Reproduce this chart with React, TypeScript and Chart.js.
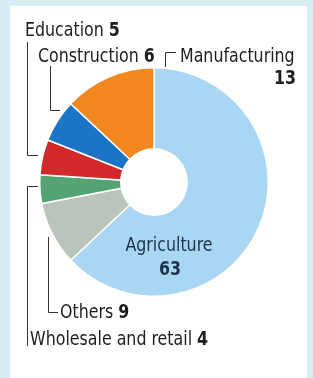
import React, { useEffect, useRef } from "react";
import { Chart, registerables } from "chart.js";

Chart.register(...registerables);

const categories = ["Agriculture", "Others", "Wholesale and retail", "Education", "Construction", "Manufacturing"];
const values = [63, 9, 4, 5, 6, 13];
const colors = ["#a8d6f3", "#b9c4ba", "#55a272", "#d3292b", "#1b74c6", "#f2861f"];

const FONT = '"Liberation Sans Narrow", "DejaVu Sans Condensed", "Roboto Condensed", sans-serif';
const SX = 0.88;

const framePlugin = {
  id: "frame",
  beforeDraw(chart: any) {
    const ctx = chart.ctx;
    ctx.save();
    ctx.fillStyle = "#d6edf3";
    ctx.fillRect(0, 0, chart.width, chart.height);
    ctx.fillStyle = "#ffffff";
    ctx.fillRect(10, 6, 297, chart.height - 6);
    ctx.restore();
  },
};

function txt(ctx: any, s: string, x: number, y: number, bold: boolean, align: string) {
  ctx.save();
  ctx.translate(x, y);
  ctx.scale(SX, 1);
  ctx.font = `${bold ? "bold " : ""}20px ${FONT}`;
  ctx.textAlign = align;
  ctx.fillText(s, 0, 0);
  const w = ctx.measureText(s).width * SX;
  ctx.restore();
  return w;
}

function labelText(ctx: any, name: string, num: string, x: number, y: number) {
  const w = txt(ctx, name + " ", x, y, false, "left");
  txt(ctx, num, x + w, y, true, "left");
}

const labelPlugin = {
  id: "labels",
  afterDraw(chart: any) {
    const ctx = chart.ctx;
    ctx.save();
    ctx.strokeStyle = "#333";
    ctx.lineWidth = 1;
    const lines: number[][][] = [
      [[27.5, 42], [27.5, 155.5], [38, 155.5]],
      [[38, 186.5], [27.5, 186.5], [27.5, 346]],
      [[50.5, 66], [50.5, 110.5], [60, 110.5]],
      [[48.5, 237], [48.5, 312.5], [58, 312.5]],
      [[176, 52.5], [165.5, 52.5], [165.5, 67]],
    ];
    lines.forEach((pts) => {
      ctx.beginPath();
      ctx.moveTo(pts[0][0], pts[0][1]);
      for (let i = 1; i < pts.length; i++) ctx.lineTo(pts[i][0], pts[i][1]);
      ctx.stroke();
    });
    ctx.fillStyle = "#1e1e1e";
    ctx.textBaseline = "alphabetic";
    const v = (n: string) => String(values[categories.indexOf(n)]);
    labelText(ctx, "Education", v("Education"), 25, 36);
    labelText(ctx, "Construction", v("Construction"), 38, 62);
    txt(ctx, "Manufacturing", 180, 62, false, "left");
    txt(ctx, v("Manufacturing"), 296, 84, true, "right");
    labelText(ctx, "Others", v("Others"), 60, 318);
    labelText(ctx, "Wholesale and retail", v("Wholesale and retail"), 30, 345);
    ctx.fillStyle = "#1d344d";
    txt(ctx, "Agriculture", 169, 251, false, "center");
    txt(ctx, v("Agriculture"), 170, 275, true, "center");
    ctx.restore();
  },
};

export default function App() {
  const ref = useRef<HTMLCanvasElement>(null);
  useEffect(() => {
    document.body.style.margin = "0";
    const chart = new Chart(ref.current as HTMLCanvasElement, {
      type: "doughnut",
      data: {
        labels: categories,
        datasets: [
          {
            data: values,
            backgroundColor: colors,
            borderColor: "#ffffff",
            borderWidth: 1.5,
          },
        ],
      },
      options: {
        animation: false,
        responsive: false,
        cutout: "29%",
        layout: { padding: { left: 39, right: 44, top: 67, bottom: 81 } },
        plugins: { legend: { display: false }, tooltip: { enabled: false } },
      },
      plugins: [framePlugin, labelPlugin],
    });
    return () => chart.destroy();
  }, []);
  return (
    <div style={{ width: 313, height: 378 }}>
      <canvas ref={ref} width={313} height={378} style={{ display: "block" }} />
    </div>
  );
}
